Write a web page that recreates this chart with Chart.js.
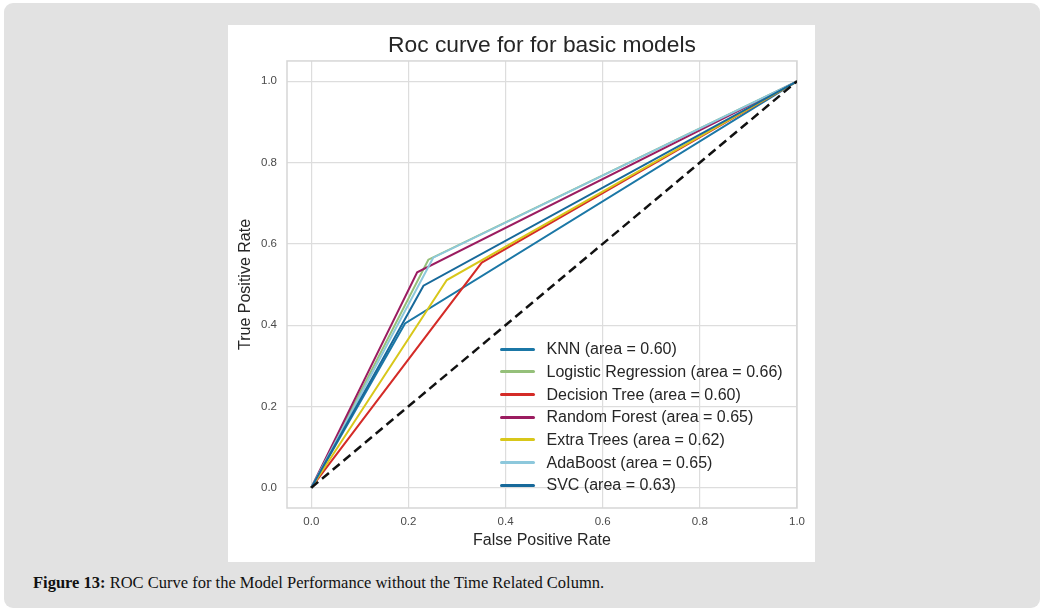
<!DOCTYPE html>
<html>
<head>
<meta charset="utf-8">
<script src="https://cdn.jsdelivr.net/npm/chart.js@4.4.1/dist/chart.umd.min.js"></script>
<style>
    body { margin: 0; background: #ffffff; width: 1044px; height: 613px; overflow: hidden; font-family: "Liberation Sans", Arial, sans-serif; }
    #page { position: absolute; left: 4px; top: 3px; width: 1036px; height: 605px; background: #e2e2e2; border-radius: 9px; }
    #panel { position: absolute; left: 228px; top: 25px; width: 587px; height: 537px; background: #ffffff; }
    #legend { position: absolute; left: 500px; top: 338px; }
    .item { display: flex; align-items: center; height: 22.67px; font-size: 16px; color: #262626; white-space: nowrap; }
    .swatch { width: 35px; height: 3px; border-radius: 2px; margin-right: 11.5px; }
    #caption { position: absolute; left: 33px; top: 573px; font-family: "Liberation Serif", "Times New Roman", serif; font-size: 16.5px; color: #111; }
</style>
</head>
<body>
<div id="page"></div>
<div id="panel"><canvas id="chart" width="587" height="537"></canvas></div>
<div id="legend"></div>
<div id="caption"><b>Figure 13:</b> ROC Curve for the Model Performance without the Time Related Column.</div>

<script>
// models and their AUC as printed in the legend
const modelNames = ["KNN", "Logistic Regression", "Decision Tree", "Random Forest", "Extra Trees", "AdaBoost", "SVC"];
const aucValues = [0.60, 0.66, 0.60, 0.65, 0.62, 0.65, 0.63];
const modelColors = ["#1b77a6", "#95c07a", "#d42b27", "#9b1c60", "#d8c71a", "#8dc8dc", "#17699a"];

// ROC points
const knnFpr = [0, 0.193, 1];   const knnTpr = [0, 0.404, 1];
const lrFpr  = [0, 0.241, 1];   const lrTpr  = [0, 0.561, 1];
const dtFpr  = [0, 0.351, 1];   const dtTpr  = [0, 0.554, 1];
const rfFpr  = [0, 0.218, 1];   const rfTpr  = [0, 0.530, 1];
const etFpr  = [0, 0.279, 1];   const etTpr  = [0, 0.511, 1];
const adaFpr = [0, 0.251, 1];   const adaTpr = [0, 0.566, 1];
const svcFpr = [0, 0.231, 1];   const svcTpr = [0, 0.497, 1];

const chanceX = [0, 1];
const chanceY = [0, 1];

const xTicks = [0.0, 0.2, 0.4, 0.6, 0.8, 1.0];
const yTicks = [0.0, 0.2, 0.4, 0.6, 0.8, 1.0];

const fprList = [knnFpr, lrFpr, dtFpr, rfFpr, etFpr, adaFpr, svcFpr];
const tprList = [knnTpr, lrTpr, dtTpr, rfTpr, etTpr, adaTpr, svcTpr];

function toPoints(xs, ys) {
    return xs.map((x, i) => ({ x: x, y: ys[i] }));
}

const datasets = modelNames.map((name, i) => ({
    label: `${name} (area = ${aucValues[i].toFixed(2)})`,
    data: toPoints(fprList[i], tprList[i]),
    borderColor: modelColors[i],
    borderWidth: 2,
    pointRadius: 0,
    tension: 0,
    fill: false,
    order: modelNames.length - i   // later models drawn on top, like matplotlib
}));

datasets.push({
    label: "chance",
    data: toPoints(chanceX, chanceY),
    borderColor: "#111111",
    borderWidth: 2.5,
    borderDash: [9, 5],
    pointRadius: 0,
    fill: false,
    order: 0
});

// light frame round the axes
const frame = {
    id: "frame",
    beforeDatasetsDraw(chart) {
        const a = chart.chartArea;
        const ctx = chart.ctx;
        ctx.save();
        ctx.strokeStyle = "#d6d6d6";
        ctx.lineWidth = 1.5;
        ctx.strokeRect(a.left, a.top, a.right - a.left, a.bottom - a.top);
        ctx.restore();
    }
};

Chart.defaults.font.family = '"Liberation Sans", Arial, sans-serif';

const ctx = document.getElementById("chart").getContext("2d");
const chart = new Chart(ctx, {
    type: "line",
    data: { datasets: datasets },
    plugins: [frame],
    options: {
        responsive: false,
        animation: false,
        layout: { padding: { left: 0, right: 18, top: 0, bottom: 0 } },
        plugins: {
            legend: { display: false },
            tooltip: { enabled: false },
            title: {
                display: true,
                text: "Roc curve for for basic models",
                fullSize: false,
                color: "#262626",
                font: { size: 22.8, weight: "normal" },
                padding: { top: 7.5, bottom: 1.1 }
            }
        },
        scales: {
            x: {
                type: "linear",
                min: -0.05,
                max: 1.0,
                afterBuildTicks: (scale) => { scale.ticks = xTicks.map(v => ({ value: v })); },
                afterFit: (scale) => { scale.height = 54; },
                grid: { color: "#dddddd", lineWidth: 1.2, drawTicks: false },
                border: { display: false },
                ticks: {
                    padding: 7,
                    color: "#4a4a4a",
                    font: { size: 11.5 },
                    callback: (v) => v.toFixed(1)
                },
                title: {
                    display: true,
                    text: "False Positive Rate",
                    color: "#262626",
                    font: { size: 16 },
                    padding: { top: 0, bottom: 11.4 }
                }
            },
            y: {
                type: "linear",
                min: -0.05,
                max: 1.05,
                afterBuildTicks: (scale) => { scale.ticks = yTicks.map(v => ({ value: v })); },
                afterFit: (scale) => { scale.width = 59; },
                grid: { color: "#dddddd", lineWidth: 1.2, drawTicks: false },
                border: { display: false },
                ticks: {
                    padding: 10,
                    color: "#4a4a4a",
                    font: { size: 11.5 },
                    callback: (v) => v.toFixed(1)
                },
                title: {
                    display: true,
                    text: "True Positive Rate",
                    color: "#262626",
                    font: { size: 16 },
                    padding: { top: 8.4, bottom: 0 }
                }
            }
        }
    }
});

// legend inside the lower right of the axes
const legend = document.getElementById("legend");
modelNames.forEach((name, i) => {
    const row = document.createElement("div");
    row.className = "item";
    row.innerHTML = `<span class="swatch" style="background:${modelColors[i]}"></span>${datasets[i].label}`;
    legend.appendChild(row);
});
</script>
</body>
</html>
